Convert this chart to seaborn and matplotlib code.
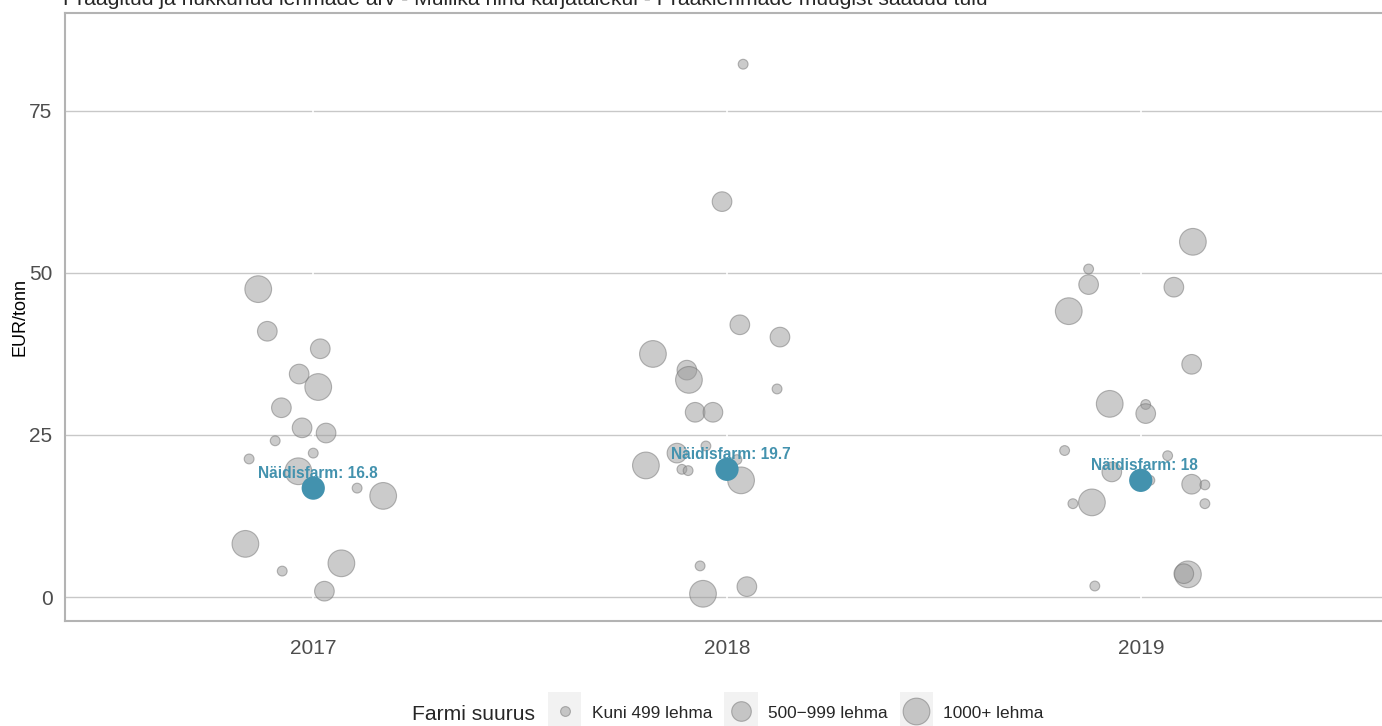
import numpy as np
import pandas as pd
import matplotlib
matplotlib.use("Agg")
import matplotlib.pyplot as plt
import seaborn as sns
from matplotlib.legend_handler import HandlerBase
from matplotlib.patches import Rectangle
from matplotlib.lines import Line2D

# --- data ---
title = ("Praagitud ja hukkunud lehmade arv - Mullika hind karjatalekul - "
         "Praaklehmade müügist saadud tulu")
size_labels = ["Kuni 499 lehma", "500\u2212999 lehma", "1000+ lehma"]

years_2017 = [2017] * 18
vals_2017 = [47.5, 41.0, 38.3, 34.4, 32.4, 29.2, 26.1, 25.3, 24.1, 22.2,
             21.3, 19.4, 16.8, 15.6, 8.2, 4.0, 5.2, 0.9]
size_2017 = ["L", "M", "M", "M", "L", "M", "M", "M", "S", "S",
             "S", "L", "S", "L", "L", "S", "L", "M"]
jit_2017 = [-0.133, -0.111, 0.017, -0.034, 0.012, -0.077, -0.027, 0.031, -0.092, 0.0,
            -0.155, -0.036, 0.106, 0.169, -0.164, -0.075, 0.068, 0.027]

years_2018 = [2018] * 20
vals_2018 = [82.2, 61.0, 42.0, 40.1, 37.5, 35.0, 33.5, 32.1, 28.5, 28.5,
             23.3, 22.2, 20.3, 19.7, 19.5, 21.2, 18.0, 4.8, 0.5, 1.6]
size_2018 = ["S", "M", "M", "M", "L", "M", "L", "S", "M", "M",
             "S", "M", "L", "S", "S", "S", "L", "S", "L", "M"]
jit_2018 = [0.039, -0.012, 0.031, 0.128, -0.179, -0.097, -0.092, 0.121, -0.077, -0.034,
            -0.051, -0.121, -0.196, -0.109, -0.094, 0.024, 0.034, -0.065, -0.058, 0.048]

years_2019 = [2019] * 21
vals_2019 = [54.8, 50.6, 48.2, 47.8, 44.1, 35.9, 29.8, 29.7, 28.3, 22.6,
             21.8, 19.3, 18.0, 17.4, 17.3, 14.4, 14.6, 14.4, 3.5, 3.6, 1.7]
size_2019 = ["L", "S", "M", "M", "L", "M", "L", "S", "M", "S",
             "S", "M", "S", "M", "S", "S", "L", "S", "L", "M", "S"]
jit_2019 = [0.126, -0.126, -0.126, 0.080, -0.174, 0.123, -0.075, 0.012, 0.012, -0.184,
            0.065, -0.070, 0.022, 0.123, 0.155, -0.164, -0.118, 0.155, 0.114, 0.104, -0.111]

farm_years = [2017, 2018, 2019]
farm_vals = [16.8, 19.7, 18.0]
farm_labels = ["Näidisfarm: 16.8", "Näidisfarm: 19.7", "Näidisfarm: 18"]

size_map = {"S": size_labels[0], "M": size_labels[1], "L": size_labels[2]}

df = pd.DataFrame({
    "aasta": years_2017 + years_2018 + years_2019,
    "jitter": jit_2017 + jit_2018 + jit_2019,
    "eur": vals_2017 + vals_2018 + vals_2019,
    "suurus": [size_map[s] for s in size_2017 + size_2018 + size_2019],
})
df["x"] = df["aasta"] + df["jitter"]
farm = pd.DataFrame({"aasta": farm_years, "eur": farm_vals})

# --- styling ---
sns.set_style("white")
plt.rcParams["font.family"] = ["Liberation Sans", "DejaVu Sans"]

grey = "#999999"
blue = "#4392AE"
sizes = {size_labels[0]: 50, size_labels[1]: 200, size_labels[2]: 370}

fig = plt.figure(figsize=(13.82, 7.26), dpi=100)
ax = fig.add_axes([65 / 1382, 1 - 621 / 726, 1324 / 1382, 608 / 726])

sns.scatterplot(data=df, x="x", y="eur", size="suurus", sizes=sizes,
                size_order=size_labels, color=grey, alpha=0.5,
                edgecolor="#707070", linewidth=0.8, legend=False, ax=ax, zorder=3)
sns.scatterplot(data=farm, x="aasta", y="eur", color=blue, s=280,
                edgecolor="none", legend=False, ax=ax, zorder=4)
for yr, v, lab in zip(farm_years, farm_vals, farm_labels):
    ax.text(yr + 0.01, v + 2.3, lab, color=blue, fontsize=11.2, fontweight="bold",
            ha="center", va="center", zorder=5)

ax.set_xlim(2016.4, 2019.6)
ax.set_ylim(-3.7, 90.1)
ax.set_xticks(farm_years)
ax.set_xticklabels([str(y) for y in farm_years])
ax.set_yticks([0, 25, 50, 75])
ax.tick_params(axis="both", length=0, labelsize=15, colors="#4D4D4D")
ax.tick_params(axis="x", pad=13)
ax.tick_params(axis="y", pad=9)
ax.set_xlabel("")
ax.set_ylabel("EUR/tonn", fontsize=13, color="black")
ax.yaxis.set_label_coords(-36 / 1324, 0.5)
ax.yaxis.grid(True, color="#C8C8C8", linewidth=1)
ax.set_axisbelow(True)
for yr in farm_years:
    ax.axvline(yr, color="white", linewidth=1.2, zorder=1)
for sp in ax.spines.values():
    sp.set_color("#B3B3B3")
    sp.set_linewidth(1.5)

fig.text(63 / 1382, 1 - 5 / 726, title, fontsize=15.2, va="baseline", ha="left")


# --- legend with grey key boxes ---
class KeyHandler(HandlerBase):
    def create_artists(self, legend, orig_handle, xdescent, ydescent,
                       width, height, fontsize, trans):
        side = 24
        cx = width / 2 - xdescent
        cy = height / 2 - ydescent
        bg = Rectangle((cx - side / 2, cy - side / 2 - 2), side, side + 4,
                       facecolor="#F2F2F2", edgecolor="none", transform=trans)
        dot = Line2D([cx], [cy], marker="o", linestyle="none",
                     markersize=orig_handle.get_markersize(),
                     markerfacecolor=grey, markeredgecolor="#707070",
                     markeredgewidth=0.8, alpha=0.5, transform=trans)
        return [bg, dot]


handles = [Line2D([], [], marker="o", markersize=np.sqrt(sizes[lab])) for lab in size_labels]

leg = fig.legend(handles, size_labels, loc="center left",
                 bbox_to_anchor=(548 / 1382, 1 - 713 / 726),
                 ncol=3, frameon=False, fontsize=12.4, handler_map={Line2D: KeyHandler()},
                 handlelength=1.94, handletextpad=0.6, columnspacing=0.7,
                 borderpad=0, borderaxespad=0)
fig.text(535 / 1382, 1 - 715 / 726, "Farmi suurus", fontsize=15.2, ha="right", va="center")

fig.savefig("out.png", dpi=100)
